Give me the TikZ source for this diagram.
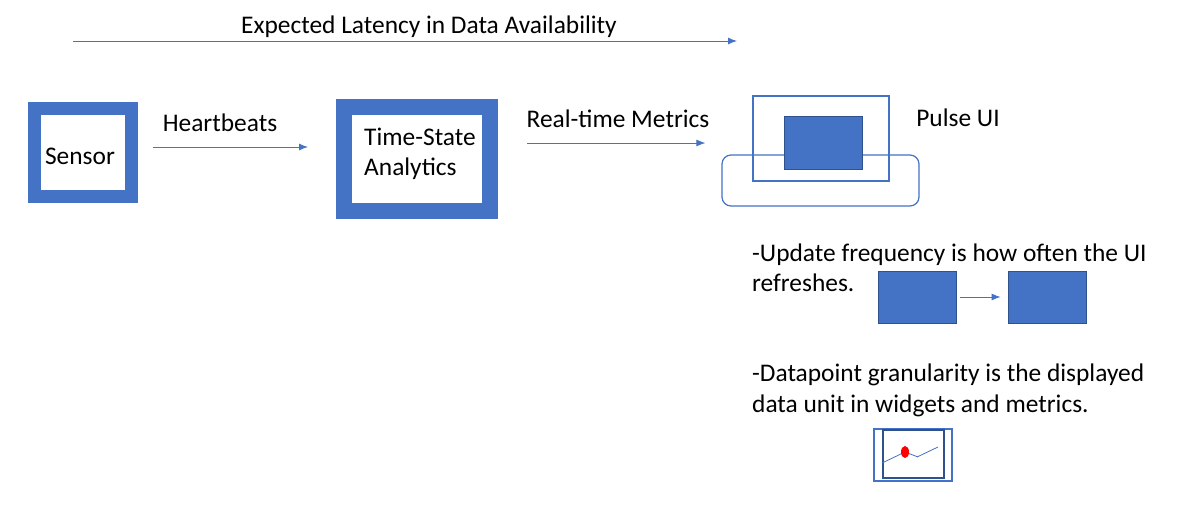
\documentclass[tikz,border=0pt]{standalone}
\usepackage{fontspec}
\setmainfont{Carlito}
\usetikzlibrary{arrows.meta}
\definecolor{pulseblue}{HTML}{4472C4}
\definecolor{darkblue}{HTML}{2F528F}
\tikzset{
  flow/.style={->,>={Latex[length=9pt,width=7pt]},pulseblue,line width=0.9pt},
  heavybox/.style={draw=pulseblue,fill=white,inner sep=0pt},
  thinbox/.style={draw=pulseblue,line width=1.2pt,inner sep=0pt},
  solidbox/.style={draw=darkblue,fill=pulseblue,line width=0.8pt,inner sep=0pt},
  txt/.style={font=\fontsize{25.4}{30.5}\selectfont,inner sep=0pt,align=left}
}

\begin{document}
\begin{tikzpicture}[x=1pt,y=-1pt]
\useasboundingbox (0,0) rectangle (1194,520);

	% latency
	\coordinate (latstart) at (73,41);
	\coordinate (latend) at (737,41);
	\draw[flow] (latstart) -- (latend);
	\node[txt] (latency) at (429,27) {Expected Latency in Data Availability};

	% pipeline
	\node[heavybox,line width=13pt,minimum width=97pt,minimum height=88pt] (sensor) at (83,152.5) {};
	\node[txt] (sensortext) at (80,156) {Sensor};
	\node[heavybox,line width=16pt,minimum width=146pt,minimum height=104pt] (tsa) at (417,159) {};
	\node[txt] (tsatext) at (420,154) {Time-State\\Analytics};

	\coordinate (hblevel) at (0,147);
	\coordinate (rtlevel) at (0,143);
	\draw[flow,shorten <=15pt,shorten >=28pt] (sensor.east |- hblevel) -- (tsa.west |- hblevel);
	\node[txt] (heartbeats) at (220,123) {Heartbeats};

	% pulse ui
	\node[thinbox,rounded corners=9pt,minimum width=197pt,minimum height=51pt] (uibase) at (820.5,180.5) {};
	\node[thinbox,minimum width=136pt,minimum height=85pt] (uiframe) at (821,138.5) {};
	\node[solidbox,minimum width=78pt,minimum height=53pt] (uiscreen) at (823,142.5) {};
	\node[txt] (pulse) at (958,118) {Pulse UI};

	\draw[flow,shorten <=29pt,shorten >=16pt] (tsa.east |- rtlevel) -- (uibase.west |- rtlevel);
	\node[txt] (metrics) at (618,119) {Real-time Metrics};

	% update frequency
	\node[txt,anchor=west] (updatetext) at (752,268) {-Update frequency is how often the UI\\refreshes.};
	\node[solidbox,minimum width=78pt,minimum height=52pt] (framea) at (917,297) {};
	\node[solidbox,minimum width=78pt,minimum height=52pt] (frameb) at (1047,297) {};
	\draw[flow,shorten <=4pt,shorten >=7pt] (framea) -- (frameb);

	% granularity
	\node[txt,anchor=west] (granularity) at (752,390.5) {-Datapoint granularity is the displayed\\data unit in widgets and metrics.};
	\node[thinbox,minimum width=78pt,minimum height=52pt] (widget) at (913,455) {};
	\node[draw=darkblue,line width=1.6pt,minimum width=61pt,minimum height=48pt,inner sep=0pt] (widgetinner) at (913.5,454) {};
	\draw[pulseblue,line width=0.8pt] (882,463) -- (905,452) -- (918,457);
	\draw[pulseblue,line width=0.8pt] (917,457) -- (938,447);
	\fill[red] (905,452) ellipse (4 and 6);

\end{tikzpicture}
\end{document}
